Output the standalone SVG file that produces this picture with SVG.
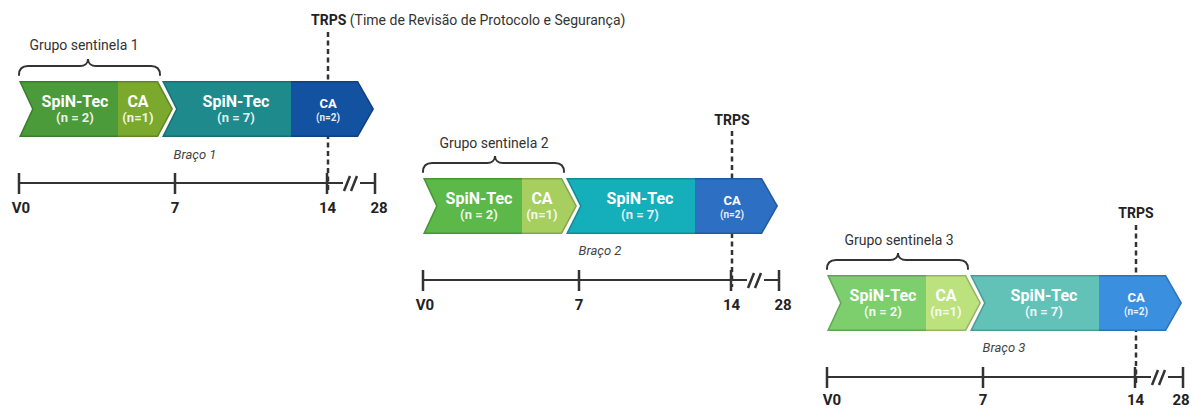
<svg xmlns="http://www.w3.org/2000/svg" width="1194" height="408" viewBox="0 0 1194 408">
  <style>
    text{font-family:Roboto,"Liberation Sans",Arial,sans-serif}
    .big{font-size:16px;font-weight:700;fill:#fff;text-anchor:middle}
    .n{font-size:13px;font-weight:700;fill:#fff;fill-opacity:.9;text-anchor:middle}
    .big-s{font-size:13px;font-weight:700;fill:#fff;text-anchor:middle}
    .n-s{font-size:10px;font-weight:700;fill:#fff;fill-opacity:.9;text-anchor:middle}
    .edgeA{fill:none;stroke:#000;stroke-opacity:.2;stroke-width:3;clip-path:url(#clipA)}
    .edgeB{fill:none;stroke:#000;stroke-opacity:.2;stroke-width:3;clip-path:url(#clipB)}
    .axis{fill:none;stroke:#333;stroke-width:2}
    .tick{fill:none;stroke:#333;stroke-width:2.5}
    .trps{fill:none;stroke:#333;stroke-width:2.5;stroke-dasharray:5 3.5}
    .brace{fill:none;stroke:#333;stroke-width:2;stroke-linecap:round}
    .tl{font-size:15px;font-weight:700;fill:#222;text-anchor:middle}
    .arm{font-size:13px;font-style:italic;fill:#444;text-anchor:middle}
    .grp{font-size:14px;fill:#333;text-anchor:middle}
    .ttl{font-size:14px;fill:#333}
    .ttl-b{font-weight:700;fill:#222}
    /* palette per arm */
    .a1 .s1{fill:#4b9b3a}.a1 .s2{fill:#7aa92d}.a1 .s3{fill:#1e8a8c}.a1 .s4{fill:#1351a1}
    .a2 .s1{fill:#5cb848}.a2 .s2{fill:#a6cf60}.a2 .s3{fill:#14afbb}.a2 .s4{fill:#2d6fc3}
    .a3 .s1{fill:#7ccf6c}.a3 .s2{fill:#bce27e}.a3 .s3{fill:#62c2b7}.a3 .s4{fill:#3b8fdf}
  </style>
  <defs>
    <!-- chevron outlines in arm-local coordinates -->
    <clipPath id="clipA"><path d="M19,81H158L173,109L158,137H19L32,109Z"/></clipPath>
    <clipPath id="clipB"><path d="M162,81H358L374,109L358,137H162L176,109Z"/></clipPath>
  </defs>

  <!-- braces, time axes and TRPS markers (drawn under the chevrons) -->
  <g id="connectors">
    <g id="axis1">
      <path class="brace" d="M19,75C19,69 22,66 28,66H80C85,66 88,63 88,59C88,63 91,66 96,66H151C157,66 160,69 160,75"/>
      <path class="trps" d="M328,32V190"/>
      <path class="axis" d="M19,183H343M360,183H375"/>
      <path class="tick" d="M19,173V194M175,173V194M327,173V194M375,173V194M344,191L350,176M351,191L357,176"/>
    </g>
    <g id="axis2" transform="translate(404,97)">
      <path class="brace" d="M19,75C19,69 22,66 28,66H83C88,66 91,63 91,59C91,63 94,66 99,66H151C157,66 160,69 160,75"/>
      <path class="trps" d="M328,34V190"/>
      <path class="axis" d="M19,183H343M360,183H375"/>
      <path class="tick" d="M19,173V194M175,173V194M327,173V194M375,173V194M344,191L350,176M351,191L357,176"/>
    </g>
    <g id="axis3" transform="translate(808,194)">
      <path class="brace" d="M19,75C19,69 22,66 28,66H82C87,66 90,63 90,59C90,63 93,66 98,66H151C157,66 160,69 160,75"/>
      <path class="trps" d="M328,31V190"/>
      <path class="axis" d="M19,183H343M360,183H375"/>
      <path class="tick" d="M19,173V194M175,173V194M327,173V194M375,173V194M344,191L350,176M351,191L357,176"/>
    </g>
  </g>

  <!-- title of the review committee -->
  <text class="ttl" x="311" y="25"><tspan class="ttl-b">TRPS</tspan> (Time de Revisão de Protocolo e Segurança)</text>

  <!-- Arm 1 -->
  <g id="arm1" class="a1">
    <g id="arm1-sentinel">
      <path class="s1" d="M19,81H118V137H19L32,109Z"/>
      <path class="s2" d="M118,81H158L173,109L158,137H118Z"/>
      <path class="edgeA" d="M19,81H158L173,109L158,137H19L32,109Z"/>
      <text class="big" x="75" y="107">SpiN-Tec</text>
      <text class="n" x="75" y="121.5">(n = 2)</text>
      <text class="big" x="138" y="107">CA</text>
      <text class="n" x="138" y="121.5">(n=1)</text>
    </g>
    <g id="arm1-main">
      <path class="s3" d="M162,81H291V137H162L176,109Z"/>
      <path class="s4" d="M291,81H358L374,109L358,137H291Z"/>
      <path class="edgeB" d="M162,81H358L374,109L358,137H162L176,109Z"/>
      <text class="big" x="236" y="107">SpiN-Tec</text>
      <text class="n" x="236" y="121.5">(n = 7)</text>
      <text class="big-s" x="328" y="108">CA</text>
      <text class="n-s" x="328" y="121">(n=2)</text>
    </g>
    <g id="arm1-labels">
      <text class="grp" x="84" y="50">Grupo sentinela 1</text>
      <text class="arm" x="195" y="159">Braço 1</text>
      <text class="tl" x="21" y="213">V0</text>
      <text class="tl" x="175" y="213">7</text>
      <text class="tl" x="327.5" y="213">14</text>
      <text class="tl" x="379" y="213">28</text>
    </g>
  </g>

  <!-- Arm 2 -->
  <g id="arm2" class="a2" transform="translate(404,97)">
    <g id="arm2-sentinel">
      <path class="s1" d="M19,81H118V137H19L32,109Z"/>
      <path class="s2" d="M118,81H158L173,109L158,137H118Z"/>
      <path class="edgeA" d="M19,81H158L173,109L158,137H19L32,109Z"/>
      <text class="big" x="75" y="107">SpiN-Tec</text>
      <text class="n" x="75" y="121.5">(n = 2)</text>
      <text class="big" x="138" y="107">CA</text>
      <text class="n" x="138" y="121.5">(n=1)</text>
    </g>
    <g id="arm2-main">
      <path class="s3" d="M162,81H291V137H162L176,109Z"/>
      <path class="s4" d="M291,81H358L374,109L358,137H291Z"/>
      <path class="edgeB" d="M162,81H358L374,109L358,137H162L176,109Z"/>
      <text class="big" x="236" y="107">SpiN-Tec</text>
      <text class="n" x="236" y="121.5">(n = 7)</text>
      <text class="big-s" x="328" y="108">CA</text>
      <text class="n-s" x="328" y="121">(n=2)</text>
    </g>
    <g id="arm2-labels">
      <text class="tl" x="328" y="28" style="font-size:14px">TRPS</text>
      <text class="grp" x="90" y="51">Grupo sentinela 2</text>
      <text class="arm" x="196" y="158">Braço 2</text>
      <text class="tl" x="21" y="213">V0</text>
      <text class="tl" x="175" y="213">7</text>
      <text class="tl" x="327.5" y="213">14</text>
      <text class="tl" x="379" y="213">28</text>
    </g>
  </g>

  <!-- Arm 3 -->
  <g id="arm3" class="a3" transform="translate(808,194)">
    <g id="arm3-sentinel">
      <path class="s1" d="M19,81H118V137H19L32,109Z"/>
      <path class="s2" d="M118,81H158L173,109L158,137H118Z"/>
      <path class="edgeA" d="M19,81H158L173,109L158,137H19L32,109Z"/>
      <text class="big" x="75" y="107">SpiN-Tec</text>
      <text class="n" x="75" y="121.5">(n = 2)</text>
      <text class="big" x="138" y="107">CA</text>
      <text class="n" x="138" y="121.5">(n=1)</text>
    </g>
    <g id="arm3-main">
      <path class="s3" d="M162,81H291V137H162L176,109Z"/>
      <path class="s4" d="M291,81H358L374,109L358,137H291Z"/>
      <path class="edgeB" d="M162,81H358L374,109L358,137H162L176,109Z"/>
      <text class="big" x="236" y="107">SpiN-Tec</text>
      <text class="n" x="236" y="121.5">(n = 7)</text>
      <text class="big-s" x="328" y="108">CA</text>
      <text class="n-s" x="328" y="121">(n=2)</text>
    </g>
    <g id="arm3-labels">
      <text class="tl" x="328" y="24" style="font-size:14px">TRPS</text>
      <text class="grp" x="91" y="51">Grupo sentinela 3</text>
      <text class="arm" x="196" y="158">Braço 3</text>
      <text class="tl" x="24" y="210.5">V0</text>
      <text class="tl" x="175" y="210.5">7</text>
      <text class="tl" x="327.5" y="210.5">14</text>
      <text class="tl" x="373" y="210.5">28</text>
    </g>
  </g>
</svg>
